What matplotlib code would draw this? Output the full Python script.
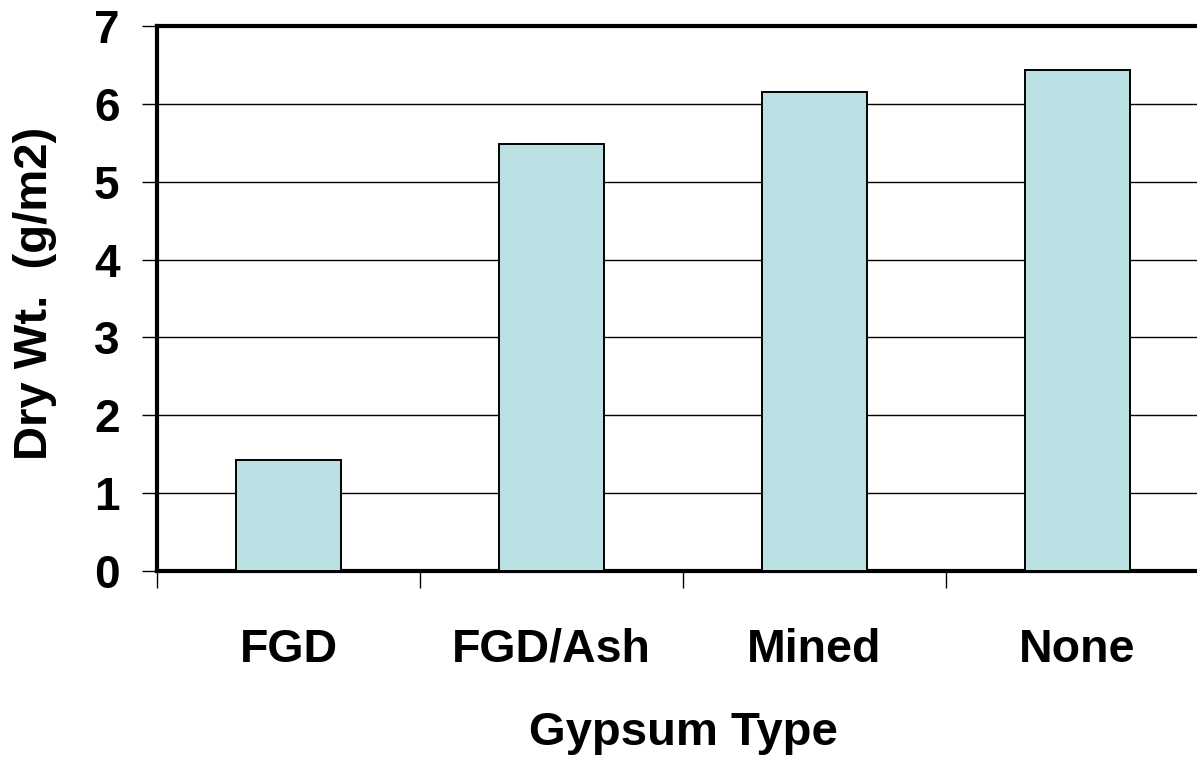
import matplotlib
matplotlib.use("Agg")
import matplotlib.pyplot as plt
import numpy as np

# data
gypsum_types = ["FGD", "FGD/Ash", "Mined", "None"]
dry_wt = [1.43, 5.48, 6.15, 6.43]
y_ticks = [0, 1, 2, 3, 4, 5, 6, 7]

plt.rcParams['font.family'] = ['Liberation Sans', 'DejaVu Sans']
plt.rcParams['font.weight'] = 'bold'

fig = plt.figure(figsize=(11.97, 7.58), dpi=100)
# axes runs a bit past the right edge, like the original
ax = fig.add_axes([157 / 1197, 187 / 758, 1052 / 1197, 545 / 758])

xpos = np.arange(len(gypsum_types)) + 0.5

# grid lines behind the bars
ax.set_axisbelow(True)
ax.yaxis.grid(True, color='black', linewidth=1.0)

ax.bar(xpos, dry_wt, width=0.403, color='#BBE0E3', edgecolor='black', linewidth=1.4, zorder=3)

ax.set_xlim(0, len(gypsum_types))
ax.set_ylim(0, 7)
ax.set_yticks(y_ticks)
ax.tick_params(axis='y', labelsize=33, length=11, width=1, pad=16)

# category labels in the middle, tick marks at the boundaries
ax.set_xticks(xpos)
ax.set_xticklabels(gypsum_types, fontsize=33.5, fontweight='bold')
ax.tick_params(axis='x', which='major', length=0, pad=41)
ax.set_xticks(np.arange(len(gypsum_types)), minor=True)
ax.tick_params(axis='x', which='minor', length=12, width=1)

for side in ['left', 'bottom', 'top']:
    ax.spines[side].set_linewidth(3)
ax.spines['right'].set_visible(False)

ax.set_xlabel("Gypsum Type", fontsize=34, fontweight='bold')
ax.xaxis.set_label_coords(0.5, -0.297)
ax.xaxis.label.set_va('center')
ax.set_ylabel("Dry Wt.  (g/m2)", fontsize=34, fontweight='bold')
ax.yaxis.set_label_coords(-0.116, 0.51)
ax.yaxis.label.set_va('center')

for lbl in ax.get_yticklabels():
    lbl.set_fontweight('bold')

fig.savefig("out.png", dpi=100)
